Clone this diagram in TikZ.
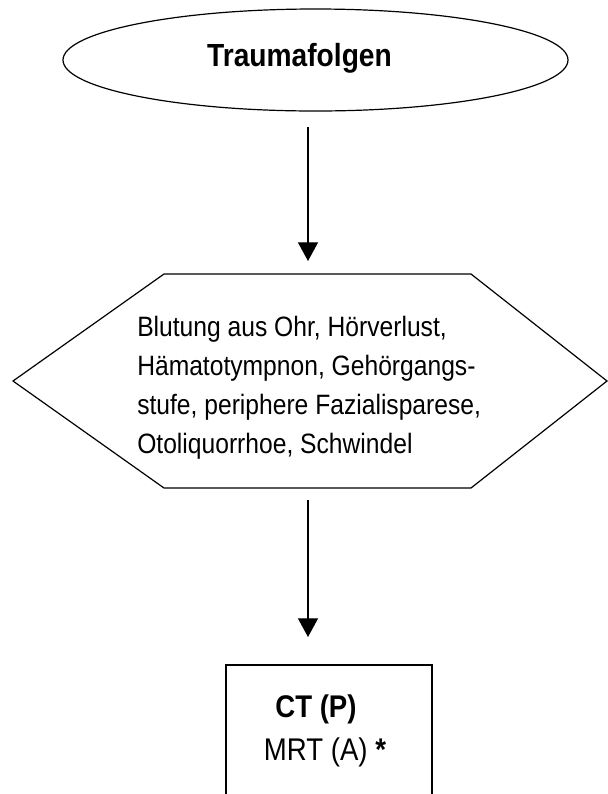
\documentclass[tikz,border=0pt]{standalone}
\usepackage{fontspec}
\setmainfont{Liberation Sans}
\newfontfamily\narrowsans[FakeStretch=0.88]{Liberation Sans}
\usetikzlibrary{shapes.geometric,arrows.meta}
\begin{document}
\begin{tikzpicture}[x=0.75pt,y=-0.75pt,
  shapeline/.style={draw=black,line width=0.9pt},
  arrowline/.style={draw=black,line width=0.9pt,-{Triangle[width=15pt,length=14pt]}},
  titletext/.style={font=\narrowsans\fontsize{24}{28}\selectfont\bfseries,inner sep=0pt,anchor=base},
  hextext/.style={font=\narrowsans\fontsize{21}{25}\selectfont,inner sep=0pt,anchor=base west},
  boxtext/.style={font=\narrowsans\fontsize{23.5}{28}\selectfont,inner sep=0pt,anchor=base},
]
\useasboundingbox[fill=white] (0,0) rectangle (608,794);
% start ellipse
\node[ellipse,shapeline,minimum width=378.75pt,minimum height=76.5pt,inner sep=0pt,outer sep=0pt] (ell) at (315.5,60) {};
\node[titletext] (title) at (299.5,66) {Traumafolgen};
% hexagon
\coordinate (hl) at (13,381);
\coordinate (htl) at (164,274);
\coordinate (htr) at (471,274);
\coordinate (hr) at (607,381);
\coordinate (hbr) at (471,488);
\coordinate (hbl) at (164,488);
\draw[shapeline] (hl) -- (htl) -- (htr) -- (hr) -- (hbr) -- (hbl) -- cycle;
\node[hextext] (h1) at (137,336) {Blutung aus Ohr, Hörverlust,};
\node[hextext] (h2) at (137,375) {Hämatotympnon, Gehörgangs-};
\node[hextext] (h3) at (137,414) {stufe, periphere Fazialisparese,};
\node[hextext] (h4) at (137,453) {Otoliquorrhoe, Schwindel};
% box
\coordinate (bbl) at (226,794);
\coordinate (btl) at (226,665);
\coordinate (btr) at (432,665);
\coordinate (bbr) at (432,794);
\draw[shapeline] (bbl) -- (btl) -- (btr) -- (bbr);
\node[boxtext] (ct) at (316,717) {\bfseries CT (P)};
\node[boxtext] (mrt) at (325,760) {MRT (A) \textbf{*}};
% arrows
\coordinate (ax) at (308,0);
\draw[arrowline,shorten <=12pt,shorten >=9.75pt] (ell.south -| ax) -- (htl -| ax);
\draw[arrowline,shorten <=9pt,shorten >=21pt] (hbl -| ax) -- (btl -| ax);
\end{tikzpicture}
\end{document}
